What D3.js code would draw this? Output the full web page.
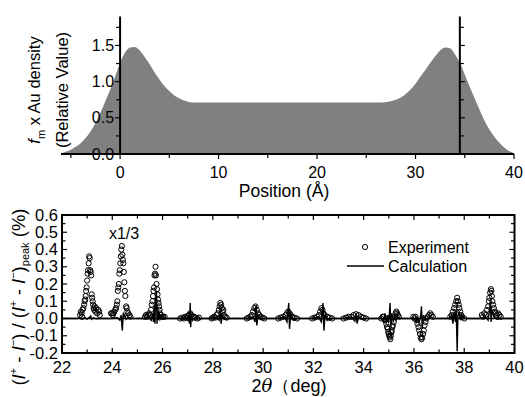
<!DOCTYPE html>
<html><head><meta charset="utf-8">
<script src="https://cdn.jsdelivr.net/npm/d3@7"></script>
<style>
body{margin:0;background:#fff;}
text{font-family:"Liberation Sans",Arial,sans-serif;fill:#000;}
</style></head>
<body><svg id="c" width="525" height="397"></svg>
<script>
// ---------- Top panel data ----------
const posX = [-6,-5.5,-5,-4.5,-4,-3.5,-3,-2.5,-2,-1.5,-1,-0.5,0,0.5,1,1.5,2,2.5,3,3.5,4,4.5,5,5.5,6,6.5,7,7.5,8,9,10,12,14,16,18,20,22,24,26,26.5,27,27.5,28,28.5,29,29.5,30,30.5,31,31.5,32,32.5,33,33.5,34,34.5,35,35.5,36,36.5,37,37.5,38,38.5,39,39.5,40];
const density = [0.01,0.03,0.06,0.10,0.15,0.22,0.31,0.43,0.57,0.73,0.89,1.07,1.26,1.40,1.47,1.48,1.43,1.34,1.24,1.13,1.03,0.94,0.87,0.81,0.77,0.74,0.72,0.71,0.71,0.71,0.71,0.71,0.71,0.71,0.71,0.71,0.71,0.71,0.71,0.71,0.72,0.73,0.75,0.78,0.83,0.89,0.97,1.07,1.16,1.26,1.35,1.43,1.47,1.46,1.38,1.26,1.10,0.93,0.77,0.61,0.46,0.34,0.24,0.16,0.09,0.04,0.01];
const filmEdges = [0, 34.5];
const topXTicks = [0,10,20,30,40];
const topYTicks = [0.0,0.5,1.0,1.5];

// ---------- Bottom panel data ----------
const expTheta = [
22.72,22.75,22.78,22.8,22.82,22.85,22.88,22.9,22.92,22.94,22.96,22.98,23.0,23.02,23.04,23.06,23.08,23.1,23.12,23.14,23.16,23.18,23.2,23.22,23.24,23.26,23.28,23.3,23.33,23.36,23.4,23.44,23.48,23.5,
23.95,23.98,24.02,24.05,24.08,24.12,24.15,24.18,24.2,24.22,24.24,24.26,24.28,24.3,24.32,24.34,24.36,24.38,24.4,24.42,24.44,24.46,24.48,24.5,24.52,24.55,24.57,24.6,24.64,24.68,24.72,
25.3,25.34,25.38,25.42,25.46,25.5,25.54,25.57,25.6,25.62,25.64,25.66,25.68,25.7,25.72,25.74,25.76,25.78,25.8,25.82,25.84,25.86,25.88,25.9,25.94,25.98,26.02,26.08,
26.7,26.78,26.85,26.9,26.95,27.0,27.05,27.1,27.15,27.2,27.25,27.3,27.38,27.45,
27.95,28.0,28.05,28.1,28.15,28.2,28.24,28.27,28.3,28.33,28.36,28.39,28.42,28.45,28.5,28.55,
29.35,29.42,29.5,29.55,29.6,29.65,29.7,29.75,29.8,29.85,29.9,29.98,30.05,
30.6,30.7,30.8,30.9,30.95,31.0,31.05,31.1,31.15,31.25,31.35,
31.95,32.05,32.15,32.22,32.27,32.32,32.36,32.4,32.45,32.55,32.65,32.75,
33.2,33.3,33.4,33.5,33.6,33.7,33.8,33.9,34.0,34.1,
34.7,34.75,34.8,34.85,34.9,34.93,34.96,34.98,35.0,35.02,35.04,35.06,35.08,35.1,35.12,35.14,35.16,35.2,35.24,35.27,35.3,35.33,35.36,35.4,
35.98,36.02,36.06,36.1,36.14,36.18,36.21,36.24,36.27,36.3,36.33,36.36,36.39,36.42,36.46,36.5,36.55,36.6,36.65,36.7,36.75,
37.45,37.5,37.55,37.6,37.64,37.68,37.72,37.75,37.78,37.81,37.84,37.88,37.92,38.0,
38.7,38.75,38.8,38.85,38.9,38.95,38.98,39.0,39.03,39.06,39.08,39.1,39.12,39.15,39.18,39.22,39.26,39.3,39.35,39.4,39.45];
const expValue = [
0.02,0.04,0.03,0.01,0.05,0.06,0.08,0.10,0.11,0.13,0.16,0.18,0.22,0.26,0.28,0.32,0.36,0.35,0.28,0.27,0.25,0.14,0.12,0.10,0.08,0.06,0.05,0.07,0.04,0.06,0.03,0.05,0.04,0.02,
0.03,0.03,0.02,0.03,0.04,0.05,0.06,0.08,0.10,0.16,0.18,0.20,0.26,0.28,0.32,0.36,0.40,0.42,0.37,0.34,0.32,0.27,0.21,0.16,0.13,0.07,0.06,0.04,0.03,0.02,0.01,
0.01,0.02,0.01,0.02,0.03,0.02,0.05,0.08,0.10,0.13,0.16,0.18,0.25,0.26,0.30,0.25,0.20,0.17,0.14,0.11,0.09,0.07,0.05,0.03,0.02,0.01,0.01,0.01,
0.0,0.005,0.0,0.01,0.005,0.015,0.02,0.03,0.02,0.01,0.01,0.005,0.0,0.005,
0.0,0.005,0.01,0.005,0.02,0.03,0.05,0.07,0.09,0.08,0.06,0.04,0.05,0.02,0.01,0.005,
0.0,0.005,0.01,0.02,0.04,0.06,0.07,0.05,0.03,0.02,0.01,0.005,0.0,
0.0,0.005,0.01,0.02,0.03,0.04,0.03,0.02,0.01,0.005,0.0,
0.0,0.005,0.01,0.02,0.04,0.06,0.05,0.03,0.02,0.01,0.005,0.0,
0.0,0.005,0.01,0.01,0.02,0.025,0.02,0.01,0.005,0.0,
0.0,0.01,0.01,-0.01,-0.03,-0.05,-0.06,-0.08,-0.09,-0.10,-0.11,-0.12,-0.10,-0.08,-0.07,-0.05,-0.04,-0.02,0.01,0.03,0.04,0.03,0.02,0.01,
0.01,0.0,0.01,-0.01,-0.03,-0.05,-0.07,-0.09,-0.11,-0.12,-0.11,-0.09,-0.07,-0.04,-0.02,0.0,0.01,0.02,0.03,0.02,0.01,
0.01,0.02,0.04,0.06,0.08,0.10,0.12,0.10,0.08,0.06,0.04,0.02,0.01,0.0,
0.02,0.01,0.03,0.02,0.05,0.07,0.10,0.12,0.15,0.17,0.16,0.13,0.10,0.08,0.06,0.04,0.03,0.02,0.03,0.02,0.01];
const calcTheta = [22.0,22.6,22.7,22.8,22.9,23.0,23.1,23.14,23.18,23.25,23.35,23.5,
24.0,24.2,24.3,24.36,24.38,24.4,24.42,24.44,24.46,24.5,24.55,24.65,24.8,
25.3,25.45,25.55,25.6,25.64,25.67,25.7,25.72,25.74,25.76,25.78,25.8,25.83,25.86,25.9,25.95,26.1,
26.7,26.9,27.0,27.04,27.07,27.1,27.12,27.15,27.2,27.3,27.5,
27.95,28.15,28.25,28.3,28.33,28.37,28.45,28.6,
29.4,29.6,29.68,29.72,29.75,29.8,29.9,30.05,
30.6,30.85,30.95,31.02,31.05,31.1,31.2,31.35,
31.95,32.2,32.32,32.38,32.42,32.47,32.55,32.75,
33.2,33.5,33.65,33.7,33.74,33.8,33.95,34.1,
34.7,34.8,34.85,34.9,34.95,35.0,35.05,35.08,35.12,35.18,35.22,35.28,35.35,35.45,
36.0,36.1,36.15,36.2,36.27,36.3,36.33,36.38,36.45,36.6,36.75,
37.4,37.5,37.55,37.6,37.65,37.68,37.72,37.75,37.8,37.85,37.9,38.0,
38.7,38.85,38.95,39.0,39.04,39.07,39.1,39.18,39.3,39.45,40.0];
const calcValue = [0,0,0.003,-0.003,0.005,-0.004,0.008,0.015,-0.005,0.004,-0.002,0,
0,0.005,-0.01,0.02,-0.04,-0.07,-0.02,0.035,0.01,0.02,-0.005,0.005,0,
0,0.005,-0.01,0.03,-0.02,0.08,-0.03,0.12,0.05,0.16,-0.03,0.07,-0.01,0.04,-0.005,0.01,0,
0,0.005,-0.01,0.02,-0.03,0.09,-0.05,0.03,-0.01,0.005,0,
0,0.005,-0.01,0.05,-0.03,0.02,-0.005,0,
0,0.01,-0.02,0.08,-0.04,0.02,-0.005,0,
0,0.01,-0.02,0.09,-0.06,0.03,-0.01,0,
0,0.01,-0.02,0.09,-0.07,0.03,-0.01,0,
0,0.01,-0.015,0.03,-0.03,0.01,-0.005,0,
0,-0.02,0.03,-0.03,0.02,-0.02,0.09,-0.05,0.03,-0.02,0.02,-0.01,0.01,0,
0,-0.02,0.01,-0.03,0.02,0.07,-0.06,0.02,-0.01,0.005,0,
0,0.02,-0.03,0.04,-0.02,0.05,-0.19,0.02,0.04,-0.01,0.02,0,
0,0.01,-0.01,0.04,0.1,-0.02,0.05,0.01,-0.005,0,0];
const botXTicks = [22,24,26,28,30,32,34,36,38,40];
const botYTicks = [-0.2,-0.1,0.0,0.1,0.2,0.3,0.4,0.5,0.6];

const svg = d3.select("#c");

// ================= TOP PANEL =================
const xT = d3.scaleLinear().domain([-6,40]).range([61,514]);
const yT = d3.scaleLinear().domain([0,1.9]).range([154,16.5]);

const area = d3.area().x((d,i)=>xT(posX[i])).y0(yT(0)).y1(d=>yT(d)).curve(d3.curveMonotoneX);
svg.append("path").attr("d", area(density)).attr("fill","#808080");

const gxT = svg.append("g").attr("transform",`translate(0,${yT(0)})`);
gxT.append("line").attr("x1",xT(-6)).attr("x2",xT(40)).attr("stroke","#000").attr("stroke-width",2);
d3.range(-5,41,5).forEach(v=>{
  const major = v%10===0;
  gxT.append("line").attr("x1",xT(v)).attr("x2",xT(v)).attr("y1",0).attr("y2",major?5:4).attr("stroke","#000").attr("stroke-width",1.2);
});
topXTicks.forEach(v=>{
  gxT.append("text").attr("x",xT(v)).attr("y",24).attr("text-anchor","middle").attr("font-size",16).text(v);
});
svg.append("text").attr("x",284).attr("y",197).attr("text-anchor","middle").attr("font-size",17.5).text("Position (Å)");

filmEdges.forEach((e,k)=>{
  const g = svg.append("g").attr("transform",`translate(${xT(e)},0)`);
  g.append("line").attr("y1",yT(0)).attr("y2",yT(1.9)).attr("stroke","#000").attr("stroke-width",2);
  const dir = k===0?-1:1;
  d3.range(0,1.76,0.25).forEach(v=>{
    const major = Math.abs(v*2-Math.round(v*2))<1e-6;
    g.append("line").attr("x1",0).attr("x2",dir*(major?5:4)).attr("y1",yT(v)).attr("y2",yT(v)).attr("stroke","#000").attr("stroke-width",1.2);
  });
  if(k===0){
    topYTicks.forEach(v=>{
      g.append("text").attr("x",-6).attr("y",yT(v)+5.5).attr("text-anchor","end").attr("font-size",16).text(v.toFixed(1));
    });
  }
});

const tl = svg.append("text").attr("transform","translate(40,90) rotate(-90)").attr("text-anchor","middle").attr("font-size",16.5);
tl.append("tspan").attr("font-style","italic").text("f");
tl.append("tspan").attr("font-size",11).attr("dy",5).text("m");
tl.append("tspan").attr("dy",-5).text(" x Au density");
svg.append("text").attr("transform","translate(68,90) rotate(-90)").attr("text-anchor","middle").attr("font-size",16.5).text("(Relative Value)");

// ================= BOTTOM PANEL =================
const xB = d3.scaleLinear().domain([22,40]).range([62,514.5]);
const yB = d3.scaleLinear().domain([-0.2,0.6]).range([353,215]);

const gB = svg.append("g");
d3.range(22,40.01,1).forEach(v=>{
  const major = v%2===0; const L = major?5:3.5;
  gB.append("line").attr("x1",xB(v)).attr("x2",xB(v)).attr("y1",yB(-0.2)).attr("y2",yB(-0.2)-L).attr("stroke","#000").attr("stroke-width",1.2);
  gB.append("line").attr("x1",xB(v)).attr("x2",xB(v)).attr("y1",yB(0.6)).attr("y2",yB(0.6)+L).attr("stroke","#000").attr("stroke-width",1.2);
});
d3.range(-0.2,0.601,0.05).forEach(v=>{
  const major = Math.abs(v*10-Math.round(v*10))<1e-6; const L = major?5:3.5;
  gB.append("line").attr("x1",xB(22)).attr("x2",xB(22)+L).attr("y1",yB(v)).attr("y2",yB(v)).attr("stroke","#000").attr("stroke-width",1.2);
  gB.append("line").attr("x1",xB(40)).attr("x2",xB(40)-L).attr("y1",yB(v)).attr("y2",yB(v)).attr("stroke","#000").attr("stroke-width",1.2);
});
botXTicks.forEach(v=>{
  gB.append("text").attr("x",xB(v)).attr("y",yB(-0.2)+20).attr("text-anchor","middle").attr("font-size",16.5).text(v);
});
botYTicks.forEach(v=>{
  gB.append("text").attr("x",xB(22)-4).attr("y",yB(v)+5.5).attr("text-anchor","end").attr("font-size",16.5).text(v.toFixed(1));
});

gB.append("line").attr("x1",xB(22)).attr("x2",xB(40)).attr("y1",yB(0)).attr("y2",yB(0)).attr("stroke","#000").attr("stroke-width",1.5);

const expData = expTheta.map((t,i)=>[t,expValue[i]]);
gB.selectAll("circle.e").data(expData).enter().append("circle")
  .attr("cx",d=>xB(d[0])).attr("cy",d=>yB(d[1])).attr("r",2.6)
  .attr("fill","none").attr("stroke","#000").attr("stroke-width",1);

const calcData = calcTheta.map((t,i)=>[t,calcValue[i]]);
gB.append("path").attr("d", d3.line().x(d=>xB(d[0])).y(d=>yB(d[1]))(calcData))
  .attr("fill","none").attr("stroke","#000").attr("stroke-width",1.4);

gB.append("rect").attr("x",xB(22)).attr("y",yB(0.6)).attr("width",xB(40)-xB(22)).attr("height",yB(-0.2)-yB(0.6))
  .attr("fill","none").attr("stroke","#000").attr("stroke-width",2);

svg.append("text").attr("x",124).attr("y",239).attr("text-anchor","middle").attr("font-size",16).text("x1/3");
svg.append("circle").attr("cx",365).attr("cy",247).attr("r",2.6).attr("fill","none").attr("stroke","#000").attr("stroke-width",1);
svg.append("text").attr("x",388).attr("y",253).attr("font-size",16).text("Experiment");
svg.append("line").attr("x1",347).attr("x2",384).attr("y1",266).attr("y2",266).attr("stroke","#000").attr("stroke-width",1.5);
svg.append("text").attr("x",388).attr("y",272).attr("font-size",16).text("Calculation");

const xt = svg.append("text").attr("x",289).attr("y",392).attr("text-anchor","middle").attr("font-size",18).attr("font-family","'Noto Sans CJK JP',sans-serif");
xt.append("tspan").text("2");
xt.append("tspan").attr("font-style","italic").attr("font-family","'DejaVu Serif',serif").text("θ");
xt.append("tspan").text("（deg)");

const yt = svg.append("text").attr("transform","translate(25,297) rotate(-90)").attr("text-anchor","middle").attr("font-size",18.5);
yt.append("tspan").text("(");
yt.append("tspan").attr("font-style","italic").text("I");
yt.append("tspan").attr("font-size",11).attr("dy",-8).text("+");
yt.append("tspan").attr("dy",8).text(" - ");
yt.append("tspan").attr("font-style","italic").text("I");
yt.append("tspan").attr("font-size",11).attr("dy",-8).text("−");
yt.append("tspan").attr("dy",8).text(") / (");
yt.append("tspan").attr("font-style","italic").text("I");
yt.append("tspan").attr("font-size",11).attr("dy",-8).text("+");
yt.append("tspan").attr("dy",8).text(" - ");
yt.append("tspan").attr("font-style","italic").text("I");
yt.append("tspan").attr("font-size",11).attr("dy",-8).text("−");
yt.append("tspan").attr("dy",8).text(")");
yt.append("tspan").attr("font-size",11).attr("dy",4).text("peak");
yt.append("tspan").attr("dy",-4).text(" (%)");
</script></body></html>
